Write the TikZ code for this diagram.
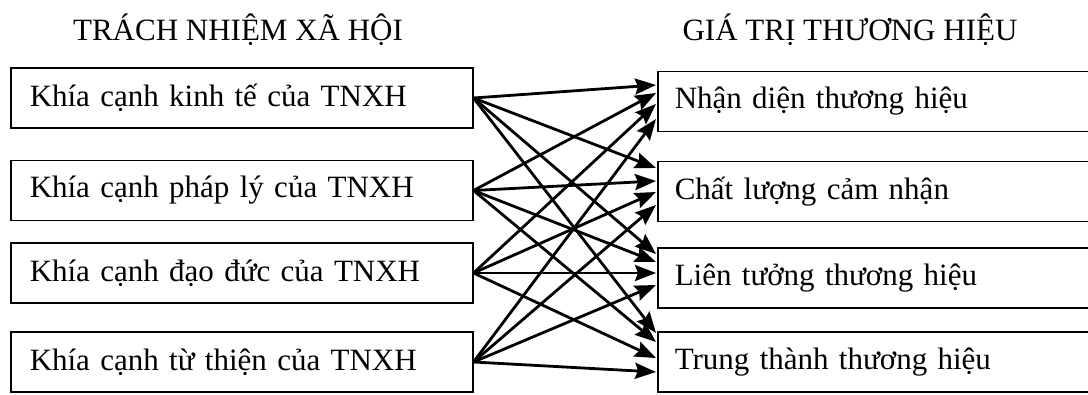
\documentclass[tikz,border=0pt]{standalone}
\usepackage{fontspec}
\setmainfont{Liberation Serif}
\usetikzlibrary{arrows.meta}
\begin{document}
\begin{tikzpicture}[x=1pt,y=-1pt,
  every node/.style={font=\fontsize{31}{36}\selectfont},
  srcbox/.style={draw, line width=1.5pt, minimum height=60pt, text width=424pt,
    inner xsep=19pt, align=left, anchor=west},
  dstbox/.style={draw, line width=1.5pt, minimum height=60pt, text width=420pt,
    inner xsep=17pt, align=left, anchor=west},
  conn/.style={line width=2.8pt, -{Stealth[length=21pt,width=16pt,inset=3pt]}},
  heading/.style={inner sep=0pt}]
\useasboundingbox (0,0) rectangle (1088,394);
\clip (0,0) rectangle (1088,394);

% column headings
\node[heading] (h1) at (238,30) {TRÁCH NHIỆM XÃ HỘI};
\node[heading] (h2) at (850,30) {GIÁ TRỊ THƯƠNG HIỆU};

% social responsibility dimensions
\node[srcbox] (L1) at (10,98)    {Khía cạnh kinh tế của TNXH};
\node[srcbox] (L2) at (10,190.5) {Khía cạnh pháp lý của TNXH};
\node[srcbox] (L3) at (10,273)   {Khía cạnh đạo đức của TNXH};
\node[srcbox] (L4) at (10,362)   {Khía cạnh từ thiện của TNXH};

% brand equity components
\node[dstbox] (R1) at (657,101.5) {Nhận diện thương hiệu};
\node[dstbox] (R2) at (657,191.5) {Chất lượng cảm nhận};
\node[dstbox] (R3) at (657,278)   {Liên tưởng thương hiệu};
\node[dstbox] (R4) at (657,362)   {Trung thành thương hiệu};

% every dimension points to every component
\foreach \src/\dst/\off in {
  L1/R1/16.5, L2/R1/8.5,  L3/R1/-2.5, L4/R1/-17.5,
  L1/R2/23.5, L2/R2/10.5, L3/R2/-0.5, L4/R2/-13.5,
  L1/R3/24,   L2/R3/16,   L3/R3/5,    L4/R3/-7,
  L1/R4/29,   L2/R4/20,   L3/R4/4,    L4/R4/-10}
  \draw[conn] (\src.east) -- ([yshift=\off pt, xshift=-1pt]\dst.west);
\end{tikzpicture}
\end{document}
